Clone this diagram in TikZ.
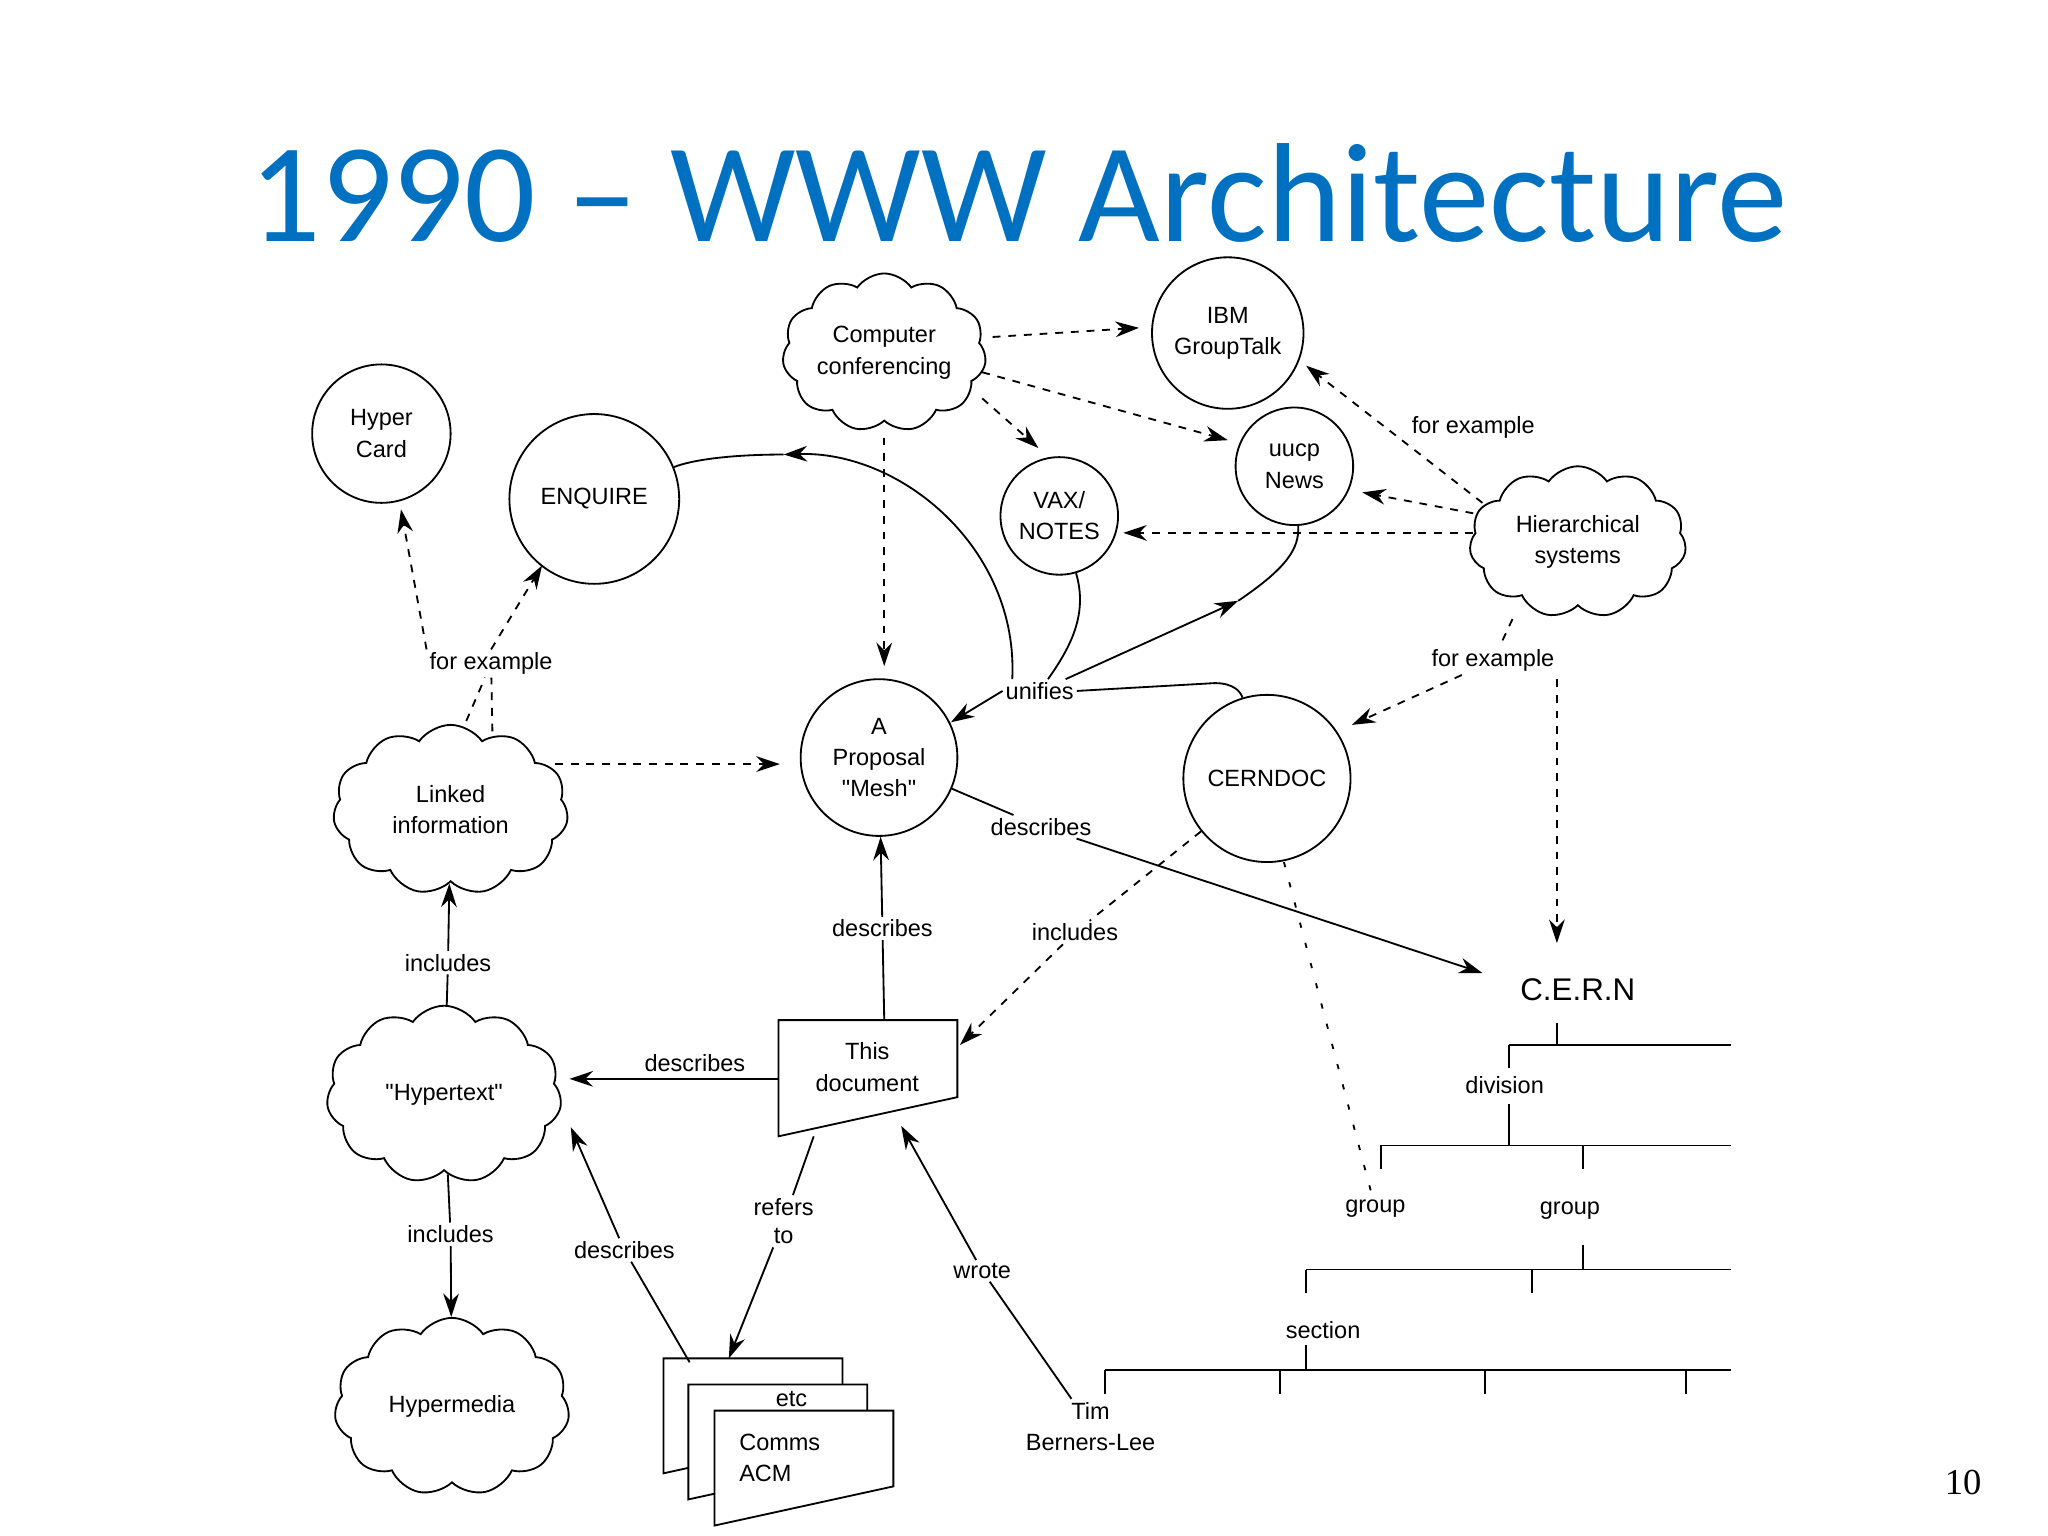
\documentclass[tikz,border=0pt]{standalone}
\usepackage{fontspec}
\setmainfont{Liberation Sans}
\newfontfamily\titlefont{Carlito}
\newfontfamily\numfont{Liberation Serif}
\usetikzlibrary{shapes.symbols,arrows.meta}
\definecolor{titleblue}{RGB}{0,112,192}
\newcommand{\dq}{\textquotedbl}
\begin{document}
\begin{tikzpicture}[x=0.5pt,y=-0.5pt,
  circ/.style={draw,circle,line width=0.7pt,align=center,font=\fontsize{9}{12}\selectfont,inner sep=0pt},
  cld/.style={draw,cloud,cloud puffs=11,cloud puff arc=110,aspect=1.4,line width=0.7pt,align=center,font=\fontsize{9}{12}\selectfont,inner sep=0pt},
  lbl/.style={fill=white,inner sep=1pt,align=center,font=\fontsize{9}{11}\selectfont},
  txt/.style={inner sep=1pt,align=center,font=\fontsize{9}{12}\selectfont},
  arr/.style={-{Stealth[length=9pt,width=6pt]},line width=0.7pt},
  darr/.style={arr,dashed},
  ln/.style={line width=0.7pt}]
\useasboundingbox (0,0) rectangle (1568,1176);
\node[font=\titlefont\fontsize{54}{58}\selectfont,text=titleblue] (title) at (780,148) {1990 \textendash{} WWW Architecture};
\node[font=\numfont\fontsize{14}{16}\selectfont] (pg) at (1503,1135) {10};
% nodes
\node[circ,minimum size=53pt] (hc) at (292,332) {Hyper\\Card};
\node[circ,minimum size=65pt] (enq) at (455,382) {ENQUIRE};
\node[cld,minimum width=78pt,minimum height=58pt] (cc) at (677,270) {Computer\\conferencing};
\node[circ,minimum size=58pt] (ibm) at (940,255) {IBM\\GroupTalk};
\node[circ,minimum size=45pt] (uucp) at (991,357) {uucp\\News};
\node[circ,minimum size=45pt] (vax) at (811,395) {VAX/\\NOTES};
\node[cld,minimum width=83pt,minimum height=58pt] (hs) at (1208,415) {Hierarchical\\systems};
\node[cld,minimum width=90pt,minimum height=65pt] (li) at (345,620) {Linked\\information};
\node[circ,minimum size=60pt] (mesh) at (673,580) {A\\Proposal\\\dq Mesh\dq};
\node[circ,minimum size=64pt] (cd) at (970,596) {CERNDOC};
\node[txt,font=\fontsize{12}{14}\selectfont] (cern) at (1208,758) {C.E.R.N};
\node[cld,minimum width=90pt,minimum height=68pt] (ht) at (340,838) {\dq Hypertext\dq};
\node[cld,minimum width=90pt,minimum height=68pt] (hm) at (346,1077) {Hypermedia};
\draw[ln] (596,781) -- (733,781) -- (733,840) -- (596,870) -- cycle;
\node[txt] (doc) at (664,817) {This\\document};
\coordinate (docn) at (677,781); \coordinate (docw) at (596,826);
\coordinate (docs) at (623,870); \coordinate (docse) at (690,862);
% comms stack
\draw[ln,fill=white] (508,1040) -- (645,1040) -- (645,1098) -- (508,1128) -- cycle;
\draw[ln,fill=white] (527,1060) -- (664,1060) -- (664,1118) -- (527,1148) -- cycle;
\draw[ln,fill=white] (547,1080) -- (684,1080) -- (684,1138) -- (547,1168) -- cycle;
\node[txt] (etc) at (606,1071) {etc};
\node[txt,align=left] (acm) at (597,1116) {Comms\\ACM};
\coordinate (acmtop) at (558,1040); \coordinate (acmtl) at (528,1043);
\node[txt] (tim) at (835,1092) {Tim\\Berners-Lee};
% tree
\draw[ln] (1155,800) -- (1325,800) (1192,783) -- (1192,800) (1155,800) -- (1155,818);
\node[txt] (div) at (1152,831) {division};
\draw[ln] (1057,877) -- (1325,877) (1155,845) -- (1155,877) (1057,877) -- (1057,895) (1212,877) -- (1212,895);
\node[txt] (g1) at (1053,925) {group};
\node[txt] (g2) at (1202,927) {group};
\draw[ln] (1000,972) -- (1325,972) (1212,953) -- (1212,972) (1000,972) -- (1000,990) (1173,972) -- (1173,990);
\node[txt] (sec) at (1013,1018) {section};
\draw[ln] (846,1049) -- (1325,1049) (1000,1030) -- (1000,1049);
\foreach \x in {846,980,1137,1291} \draw[ln] (\x,1049) -- (\x,1067);
% connectors from computer conferencing
\coordinate (ibmw) at (872,251); \coordinate (uucpw) at (940,337);
\coordinate (vaxn) at (795,343); \coordinate (meshn) at (677,510);
\coordinate (ccs) at (677,335);
\draw[darr] (760,258) -- (ibmw);
\draw[darr] (752,285) -- (uucpw);
\draw[darr] (752,305) -- (vaxn);
\draw[darr] (ccs) -- (meshn);
% hierarchical
\coordinate (hs1) at (1135,385); \coordinate (ibmse) at (1000,280);
\draw[darr] (hs1) -- (ibmse);
\node[lbl] (fe0) at (1128,327) {for example};
\coordinate (hs2) at (1128,393); \coordinate (uucpe) at (1043,377);
\draw[darr] (hs2) -- (uucpe);
\coordinate (hs3) at (1128,408); \coordinate (vaxe) at (860,408);
\draw[darr] (hs3) -- (vaxe);
\node[lbl] (fe2) at (1143,506) {for example};
\coordinate (hs4) at (1158,474);
\draw[dashed,ln] (hs4) -- (fe2);
\coordinate (cdne) at (1035,555);
\draw[darr] (fe2) -- (cdne);
\coordinate (v1) at (1192,520); \coordinate (v2) at (1192,722);
\draw[darr] (v1) -- (v2);
% linked
\node[lbl] (fe1) at (376,508) {for example};
\coordinate (hcs) at (307,390); \coordinate (enqs) at (415,433);
\coordinate (li1) at (357,552); \coordinate (li2) at (377,560);
\draw[darr] (fe1.north west) ++(0,0) -- (hcs);
\draw[darr] (fe1.north) -- (enqs);
\draw[dashed,ln] (li1) -- (fe1);
\draw[dashed,ln] (li2) -- (fe1);
\coordinate (li3) at (425,585); \coordinate (meshw) at (597,585);
\draw[darr] (li3) -- (meshw);
% unifies
\node[lbl] (uni) at (796,529) {unifies};
\coordinate (meshne) at (728,553);
\draw[arr] (uni.west) -- (meshne);
\draw[arr] (775,520) .. controls (780,420) and (690,345) .. (600,348);
\draw[ln] (600,348) .. controls (560,348) and (530,352) .. (enq);
\draw[ln] (vax) .. controls (833,470) and (820,495) .. (uni);
\draw[arr] (uni) -- (948,460);
\draw[ln] (948,460) .. controls (985,435) and (995,420) .. (uucp);
\draw[ln] (uni.east) -- (930,523) .. controls (945,523) and (950,530) .. (cd);
% describes to cern
\node[lbl] (ds1) at (797,633) {describes};
\draw[ln] (mesh) -- (ds1);
\coordinate (cernw) at (1135,745);
\draw[arr] (ds1) -- (cernw);
% cerndoc includes
\node[lbl] (inc1) at (823,714) {includes};
\draw[dashed,ln] (cd) -- (inc1);
\draw[darr] (inc1) -- (735,800);
\draw[ln,dash pattern=on 2pt off 6pt] (983,660) -- (g1);
% document connections
\draw[arr] (docn) -- (mesh) node[midway,lbl] {describes};
\coordinate (htE) at (436,826);
\draw[arr] (docw) -- (htE) node[pos=0.4,lbl,yshift=6pt] {describes};
\node[lbl] (ref) at (600,935) {refers\\to};
\draw[ln] (docs) -- (ref);
\draw[arr] (ref) -- (acmtop);
\node[lbl] (wr) at (752,973) {wrote};
\draw[ln] (tim) -- (wr);
\draw[arr] (wr) -- (docse);
\node[lbl] (ds2) at (478,957) {describes};
\draw[ln] (acmtl) -- (ds2);
\draw[arr] (ds2) -- (437,863);
\node[lbl] (inc2) at (343,737) {includes};
\draw[ln] (ht) -- (inc2);
\draw[arr] (inc2) -- (li);
\node[lbl] (inc3) at (345,945) {includes};
\draw[ln] (ht) -- (inc3);
\draw[arr] (inc3) -- (hm);
\end{tikzpicture}
\end{document}
